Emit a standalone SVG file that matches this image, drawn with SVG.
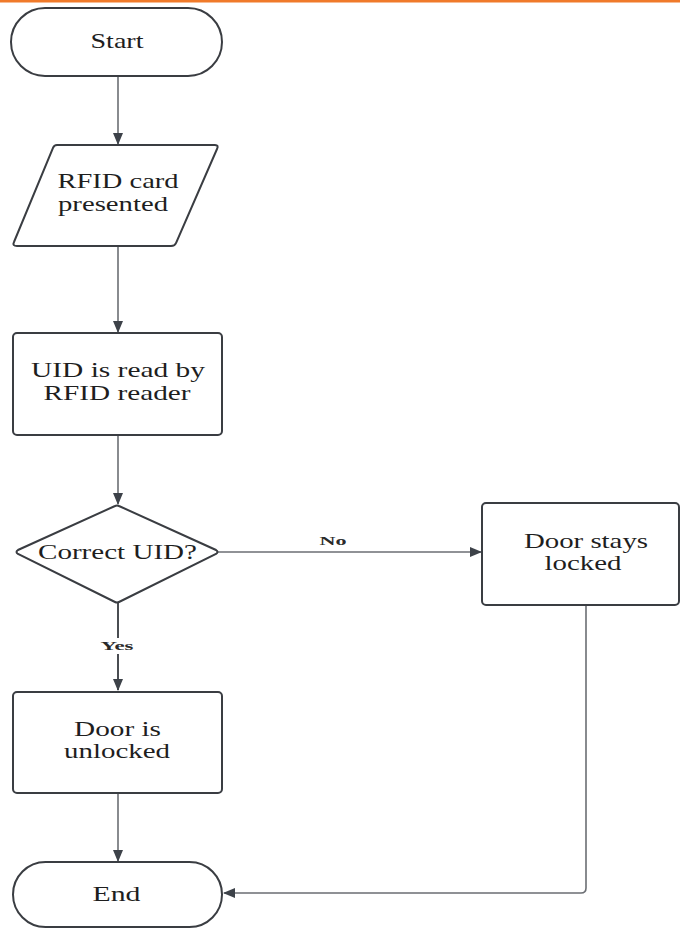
<svg xmlns="http://www.w3.org/2000/svg" width="680" height="929" viewBox="0 0 680 929">
<defs>
<style>
.shape{fill:#ffffff;stroke:#3a3d42;stroke-width:2}
.t{font-family:"Liberation Serif","Times New Roman",serif;font-size:22px;fill:#1e1e1e;text-anchor:middle}
.lbl{font-family:"Liberation Serif","Times New Roman",serif;font-size:13px;font-weight:bold;fill:#2a2a2a;text-anchor:middle}
.conn{fill:none;stroke:#6b6e73;stroke-width:1.6}
</style>
<marker id="arr" viewBox="0 0 12 10" refX="11" refY="5" markerWidth="12" markerHeight="10" markerUnits="userSpaceOnUse" orient="auto">
<path d="M0,0 L12,5 L0,10 Z" fill="#3d4249"/>
</marker>
</defs>
<rect x="0" y="0" width="680" height="929" fill="#ffffff"/>
<rect x="0" y="0" width="680" height="2.5" fill="#f07a2a"/>

<g id="connectors">
<path class="conn" d="M118,76 L118,144" marker-end="url(#arr)"/>
<path class="conn" d="M118,247 L118,332" marker-end="url(#arr)"/>
<path class="conn" d="M118,435 L118,504" marker-end="url(#arr)"/>
<path class="conn" d="M118,603 L118,690" marker-end="url(#arr)" style="stroke:#4a4d52;stroke-width:2"/>
<path class="conn" d="M218,552 L481,552" marker-end="url(#arr)"/>
<path class="conn" d="M118,793 L118,861" marker-end="url(#arr)"/>
<path class="conn" d="M586,605 L586,888 Q586,893 581,893 L224,893" marker-end="url(#arr)"/>
<rect x="98" y="638" width="40" height="16" fill="#ffffff"/>
<text class="lbl" x="117" y="650" textLength="33" lengthAdjust="spacingAndGlyphs">Yes</text>
<rect x="316" y="532" width="34" height="16" fill="#ffffff"/>
<text class="lbl" x="333" y="545" textLength="27" lengthAdjust="spacingAndGlyphs">No</text>
</g>

<g id="start">
<rect class="shape" x="11" y="8" width="211" height="68" rx="34" ry="34"/>
<text class="t" x="117" y="48" textLength="53" lengthAdjust="spacingAndGlyphs">Start</text>
</g>

<g id="rfid-card">
<path class="shape" d="M57,145 L215,145 Q219,145 217,149 L176,243 Q175,246 171,246 L17,246 Q12,246 14,242 L53,148 Q54,145 57,145 Z"/>
<text class="t" x="118" y="188" textLength="121" lengthAdjust="spacingAndGlyphs">RFID card</text>
<text class="t" x="113" y="211" textLength="110" lengthAdjust="spacingAndGlyphs">presented</text>
</g>

<g id="uid-read">
<rect class="shape" x="13" y="333" width="209" height="102" rx="4" ry="4"/>
<text class="t" x="118" y="377" textLength="174" lengthAdjust="spacingAndGlyphs">UID is read by</text>
<text class="t" x="117" y="400" textLength="147" lengthAdjust="spacingAndGlyphs">RFID reader</text>
</g>

<g id="decision">
<path class="shape" d="M115,506 Q117,505 119,506 L216,550 Q219,552 216,554 L119,602 Q117,603 115,602 L18,554 Q15,552 18,550 Z"/>
<text class="t" x="117.5" y="559" textLength="159" lengthAdjust="spacingAndGlyphs">Correct UID?</text>
</g>

<g id="door-locked">
<rect class="shape" x="482" y="503" width="197" height="102" rx="4" ry="4"/>
<text class="t" x="586" y="548" textLength="124" lengthAdjust="spacingAndGlyphs">Door stays</text>
<text class="t" x="583" y="570" textLength="77" lengthAdjust="spacingAndGlyphs">locked</text>
</g>

<g id="door-unlocked">
<rect class="shape" x="13" y="692" width="209" height="101" rx="4" ry="4"/>
<text class="t" x="117.5" y="736" textLength="87" lengthAdjust="spacingAndGlyphs">Door is</text>
<text class="t" x="117" y="758" textLength="106" lengthAdjust="spacingAndGlyphs">unlocked</text>
</g>

<g id="end">
<rect class="shape" x="13" y="862" width="209" height="65" rx="32.5" ry="32.5"/>
<text class="t" x="116.5" y="901" textLength="48" lengthAdjust="spacingAndGlyphs">End</text>
</g>
</svg>
